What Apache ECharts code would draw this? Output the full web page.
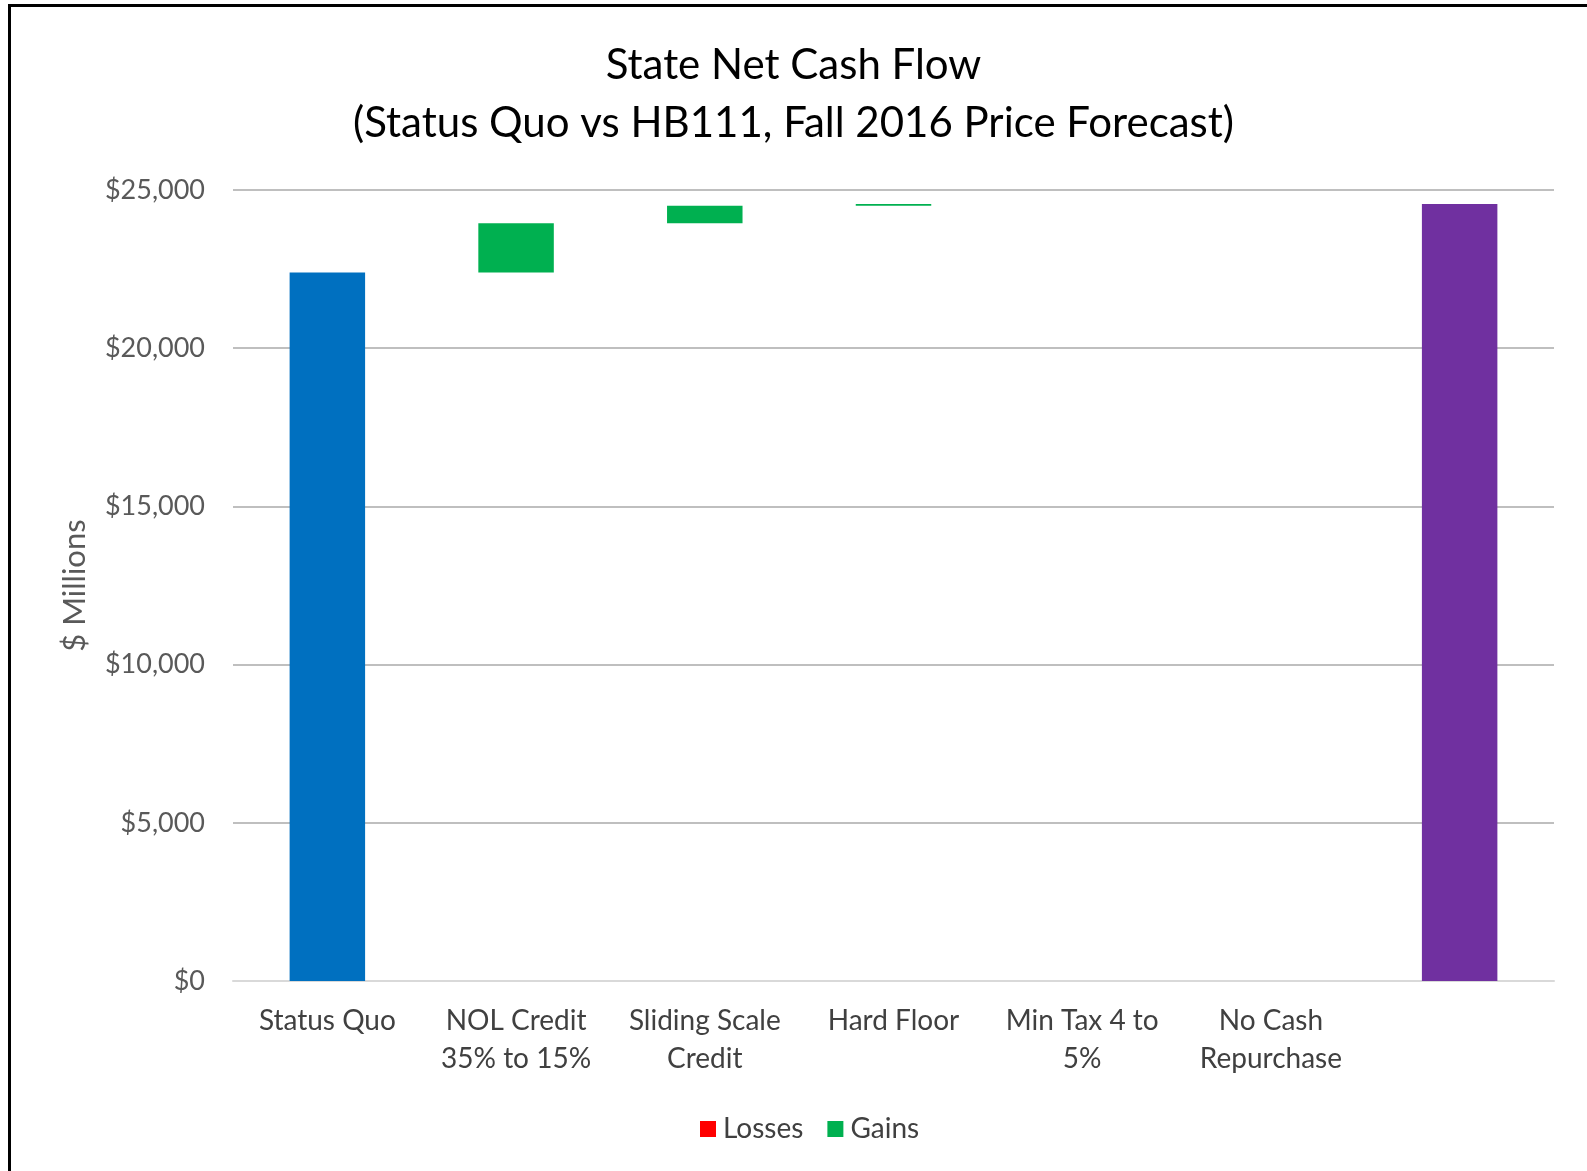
<!DOCTYPE html>
<html>
<head>
<meta charset="utf-8">
<script src="https://cdn.jsdelivr.net/npm/echarts@6/dist/echarts.min.js"></script>
<style>
  html, body { margin: 0; padding: 0; background: #fff; }
  #chart { position: absolute; left: 0; top: 0; width: 1587px; height: 1171px; }
  #frame { position: absolute; left: 8px; top: 4px; width: 1700px; height: 1300px;
           border-left: 3px solid #000; border-top: 3px solid #000; pointer-events: none; }
</style>
</head>
<body>
<div id="chart"></div>
<div id="frame"></div>
<script>
const categories = ['Status Quo', 'NOL Credit\n35% to 15%', 'Sliding Scale\nCredit', 'Hard Floor', 'Min Tax 4 to\n5%', 'No Cash\nRepurchase', ''];
const totals = [22390, '-', '-', '-', '-', '-', 24560];
const gains = ['-', 1560, 550, 60, 0, 0, '-'];
const losses = ['-', 0, 0, 0, 0, 0, '-'];
const yTicks = [0, 5000, 10000, 15000, 20000, 25000];

// invisible base for the floating waterfall steps
const base = [];
let running = 0;
categories.forEach((c, i) => {
  if (totals[i] !== '-') {
    running = totals[i];
    base.push('-');
  } else {
    running -= losses[i];
    base.push(running);
    running += gains[i];
  }
});

const totalColors = ['#0070C0', '#7030A0'];
const font = 'Lato, "Open Sans", sans-serif';

const chart = echarts.init(document.getElementById('chart'));

chart.setOption({
  animation: false,
  textStyle: { fontFamily: font },
  title: {
    text: 'State Net Cash Flow\n(Status Quo vs HB111, Fall 2016 Price Forecast)',
    left: 'center',
    top: 31,
    textStyle: { fontSize: 42, lineHeight: 58, fontWeight: 'normal', color: '#000', fontFamily: font },
  },
  legend: {
    data: ['Losses', 'Gains'],
    left: 695,
    top: 1110,
    icon: 'rect',
    itemWidth: 16,
    itemHeight: 16,
    itemGap: 24,
    textStyle: { fontSize: 28, color: '#404040', fontFamily: font, padding: [0, 0, 0, 2] },
  },
  grid: { left: 233, right: 33, top: 190, bottom: 190 },
  xAxis: {
    type: 'category',
    data: categories,
    axisTick: { show: false },
    axisLine: { lineStyle: { color: '#d9d9d9', width: 2 } },
    axisLabel: { interval: 0, fontSize: 28, lineHeight: 38, color: '#404040', margin: 21, fontFamily: font },
  },
  yAxis: {
    type: 'value',
    min: yTicks[0],
    max: yTicks[yTicks.length - 1],
    interval: yTicks[1] - yTicks[0],
    name: '$ Millions',
    nameLocation: 'middle',
    nameGap: 143,
    nameTextStyle: { fontSize: 31, color: '#595959', fontFamily: font },
    axisLabel: {
      fontSize: 27,
      color: '#595959',
      margin: 28,
      fontFamily: font,
      formatter: (v) => '$' + v.toLocaleString('en-US'),
    },
    splitLine: { lineStyle: { color: '#bfbfbf', width: 2 } },
  },
  series: [
    {
      name: 'Base',
      type: 'bar',
      stack: 'all',
      barWidth: '40%',
      silent: true,
      itemStyle: { color: 'transparent' },
      data: base,
    },
    {
      name: 'Totals',
      type: 'bar',
      stack: 'all',
      data: totals.map((v, i) => (v === '-' ? v : { value: v, itemStyle: { color: i === 0 ? totalColors[0] : totalColors[1] } })),
    },
    {
      name: 'Losses',
      type: 'bar',
      stack: 'all',
      itemStyle: { color: '#FF0000' },
      data: losses,
    },
    {
      name: 'Gains',
      type: 'bar',
      stack: 'all',
      itemStyle: { color: '#00B050' },
      data: gains,
    },
  ],
});
</script>
</body>
</html>
